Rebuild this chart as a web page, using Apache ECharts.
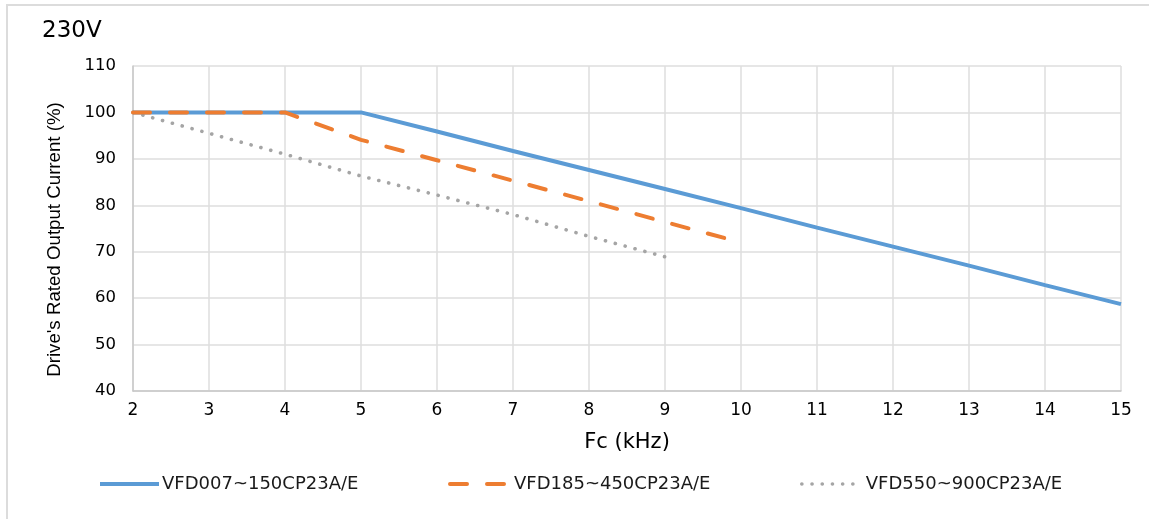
<!DOCTYPE html>
<html>
<head>
<meta charset="utf-8">
<style>
  html, body { margin: 0; padding: 0; background: #fff; }
  #frame { position: absolute; left: 6px; top: 4px; width: 1143px; height: 515px;
           border-left: 2px solid #dcdcdc; border-top: 2px solid #dcdcdc; box-sizing: border-box; }
  #chart { position: absolute; left: 0; top: 0; width: 1149px; height: 519px; }
</style>
<script src="https://cdn.jsdelivr.net/npm/echarts@6/dist/echarts.min.js"></script>
</head>
<body>
<div id="frame"></div>
<div id="chart"></div>
<script>
// carrier frequency (kHz) vs rated output current (%)
const seriesNames = ['VFD007~150CP23A/E', 'VFD185~450CP23A/E', 'VFD550~900CP23A/E'];
const smallFc = [2, 3, 4, 5, 6, 7, 8, 9, 10, 11, 12, 13, 14, 15];
const smallCur = [100, 100, 100, 100, 95.9, 91.7, 87.6, 83.5, 79.4, 75.2, 71.1, 67, 62.8, 58.7];
const midFc = [2, 3, 4, 5, 6, 7, 8, 9, 10];
const midCur = [100, 100, 100, 94.1, 89.7, 85.3, 80.9, 76.4, 72];
const bigFc = [2, 3, 4, 5, 6, 7, 8, 9];
const bigCur = [100, 95.5, 91, 86.3, 82.2, 78, 73.3, 68.9];

const yTicks = { min: 40, max: 110, step: 10 };
const xTicks = { min: 2, max: 15, step: 1 };

function pairs(xs, ys) {
  return xs.map((x, i) => [x, ys[i]]);
}

const chart = echarts.init(document.getElementById('chart'));
const wide = 'DejaVu Sans, Verdana, sans-serif';
const narrow = 'Liberation Sans, Arial, sans-serif';
const colors = ['#5B9BD5', '#ED7D31', '#A5A5A5'];
const styles = [
  { color: colors[0], width: 4, type: 'solid', cap: 'butt' },
  { color: colors[1], width: 4, type: [17, 20], cap: 'round' },
  { color: colors[2], width: 3.6, type: [0.1, 10.1], cap: 'round' }
];

function legendFor(i, left, width, textPad) {
  return {
    data: [{ name: seriesNames[i], itemStyle: { opacity: 0 }, lineStyle: styles[i] }],
    left: left,
    top: 470,
    itemWidth: width,
    itemHeight: 14,
    itemGap: 0,
    textStyle: { fontFamily: wide, fontSize: 18, color: '#1a1a1a', padding: [0, 0, 0, textPad] }
  };
}

chart.setOption({
  animation: false,
  title: {
    text: '230V',
    left: 37,
    top: 15,
    textStyle: { fontFamily: wide, fontSize: 23, fontWeight: 'normal', color: '#000' }
  },
  legend: [
    legendFor(0, 93, 59, -2),
    legendFor(1, 443, 58, 1),
    legendFor(2, 795, 57, 2)
  ],
  grid: { left: 133, right: 28, top: 66, bottom: 128, containLabel: false },
  xAxis: {
    type: 'value',
    min: xTicks.min,
    max: xTicks.max,
    interval: xTicks.step,
    name: 'Fc (kHz)',
    nameLocation: 'middle',
    nameGap: 41,
    nameTextStyle: { fontFamily: wide, fontSize: 21, color: '#000' },
    axisLine: { lineStyle: { color: '#c8c8c8', width: 1.5 } },
    axisTick: { show: false },
    axisLabel: { fontFamily: wide, fontSize: 17, color: '#000', margin: 11 },
    splitLine: { show: true, lineStyle: { color: '#dedede', width: 1.5 } }
  },
  yAxis: {
    type: 'value',
    min: yTicks.min,
    max: yTicks.max,
    interval: yTicks.step,
    name: "Drive's Rated Output Current (%)",
    nameLocation: 'middle',
    nameGap: 69,
    nameTextStyle: { fontFamily: narrow, fontSize: 18.7, color: '#000', padding: [0, 22, 0, 0] },
    axisLine: { show: true, lineStyle: { color: '#c8c8c8', width: 1.5 } },
    axisTick: { show: false },
    axisLabel: { fontFamily: wide, fontSize: 16.5, color: '#000', margin: 17 },
    splitLine: { show: true, lineStyle: { color: '#dedede', width: 1.5 } }
  },
  series: [
    {
      name: seriesNames[0],
      type: 'line',
      symbol: 'none',
      data: pairs(smallFc, smallCur),
      itemStyle: { color: colors[0] },
      lineStyle: styles[0],
      z: 3
    },
    {
      name: seriesNames[1],
      type: 'line',
      symbol: 'none',
      data: pairs(midFc, midCur),
      itemStyle: { color: colors[1] },
      lineStyle: styles[1],
      z: 4
    },
    {
      name: seriesNames[2],
      type: 'line',
      symbol: 'none',
      data: pairs(bigFc, bigCur),
      itemStyle: { color: colors[2] },
      lineStyle: styles[2],
      z: 2
    }
  ]
});
</script>
</body>
</html>
